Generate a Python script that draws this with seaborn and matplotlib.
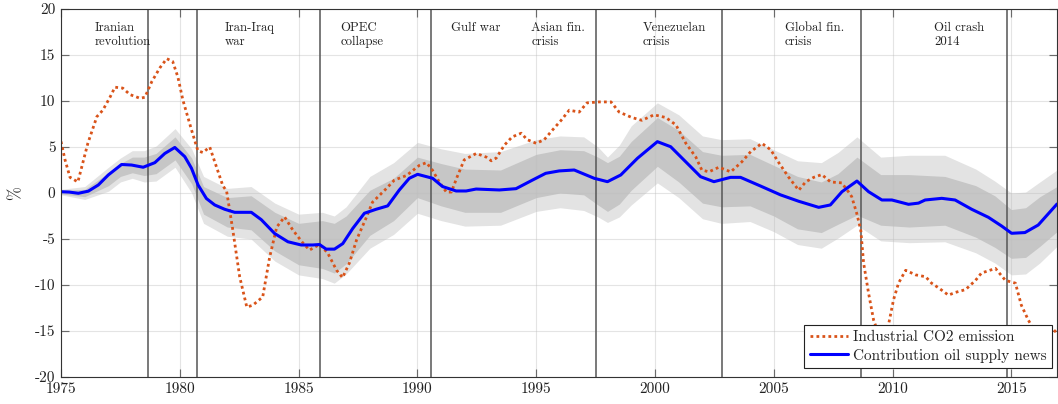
import numpy as np
import pandas as pd
import matplotlib
matplotlib.use("Agg")
import matplotlib.pyplot as plt
import seaborn as sns

# ---------------- data ----------------
blue_years = [1975.0, 1975.35, 1975.73, 1976.15, 1976.57, 1976.99, 1977.55, 1977.97, 1978.46, 1978.95,
              1979.37, 1979.79, 1980.21, 1980.49, 1980.77, 1981.12, 1981.47, 1981.89, 1982.31, 1983.01,
              1983.43, 1983.99, 1984.55, 1985.11, 1985.6, 1985.88, 1986.16, 1986.51, 1986.86, 1987.28,
              1987.77, 1988.26, 1988.75, 1989.24, 1989.66, 1990.01, 1990.64, 1991.06, 1991.63, 1992.05,
              1992.47, 1993.45, 1994.15, 1994.84, 1995.4, 1995.97, 1996.6, 1997.44, 1998.0, 1998.56,
              1999.26, 2000.1, 2000.66, 2001.36, 2001.92, 2002.48, 2003.18, 2003.6, 2004.44, 2005.28,
              2006.05, 2006.89, 2007.38, 2007.87, 2008.5, 2008.99, 2009.55, 2009.97, 2010.67, 2011.09,
              2011.37, 2012.07, 2012.63, 2013.33, 2014.03, 2014.59, 2015.01, 2015.57, 2016.13, 2016.92]
blue_vals = [0.14, 0.1, -0.03, 0.2, 0.87, 1.96, 3.1, 3.04, 2.8, 3.3,
             4.3, 4.95, 3.95, 2.7, 0.87, -0.6, -1.3, -1.77, -2.1, -2.1,
             -2.9, -4.4, -5.3, -5.65, -5.65, -5.6, -6.1, -6.1, -5.5, -3.85,
             -2.2, -1.77, -1.4, 0.33, 1.6, 2.03, 1.6, 0.7, 0.22, 0.22,
             0.43, 0.33, 0.47, 1.4, 2.14, 2.4, 2.5, 1.6, 1.23, 1.96,
             3.77, 5.58, 5.03, 3.22, 1.77, 1.23, 1.7, 1.7, 0.76, -0.2,
             -0.9, -1.56, -1.3, 0.14, 1.3, 0.14, -0.76, -0.76, -1.23, -1.1,
             -0.76, -0.58, -0.76, -1.77, -2.64, -3.59, -4.38, -4.3, -3.48, -1.2]

band_years = [1975.0, 1976.0, 1977.0, 1977.5, 1978.0, 1978.5, 1979.0, 1979.8, 1980.5, 1981.0,
              1982.0, 1983.0, 1984.0, 1985.0, 1986.0, 1986.5, 1987.0, 1988.0, 1989.0, 1990.0,
              1991.0, 1992.0, 1993.5, 1995.0, 1996.0, 1997.0, 1997.6, 1998.0, 1998.5, 1999.0,
              2000.1, 2001.0, 2002.0, 2002.8, 2004.0, 2005.0, 2006.0, 2007.0, 2007.7, 2008.5,
              2009.5, 2010.7, 2012.2, 2013.5, 2014.3, 2015.0, 2015.6, 2016.2, 2016.92]
dark_lo = [-0.1, -0.4, 0.8, 1.8, 2.2, 1.9, 2.1, 3.6, 1.0, -2.3,
           -3.7, -4.0, -6.3, -7.8, -8.2, -8.7, -7.7, -4.6, -3.0, -0.5,
           -1.4, -2.1, -2.1, -0.5, 0.0, -0.2, -1.3, -2.0, -1.2, 0.3,
           2.9, 1.2, -1.1, -1.5, -1.4, -2.5, -3.9, -4.3, -3.4, -2.4,
           -3.5, -3.7, -3.5, -4.8, -5.9, -7.1, -7.0, -5.8, -4.2]
dark_hi = [0.3, 0.4, 2.2, 3.2, 3.9, 3.9, 4.3, 6.1, 3.8, 0.7,
           -0.5, -0.3, -2.1, -3.3, -3.0, -3.3, -2.5, 0.3, 1.6, 3.9,
           3.2, 2.6, 2.5, 4.2, 4.7, 4.6, 3.9, 3.3, 4.0, 5.6,
           8.2, 6.8, 4.5, 4.1, 4.2, 3.0, 1.8, 1.2, 2.1, 3.9,
           2.0, 2.0, 1.8, 0.8, -0.3, -1.8, -1.6, -0.4, 0.7]
light_lo = [-0.2, -0.7, 0.2, 1.2, 1.6, 1.2, 1.3, 2.8, 0.0, -3.3,
            -4.7, -5.0, -7.4, -8.9, -9.3, -9.8, -8.8, -6.0, -4.5, -2.2,
            -3.0, -3.6, -3.5, -2.0, -1.6, -1.9, -2.6, -3.2, -2.6, -1.3,
            1.1, -0.5, -2.8, -3.3, -3.1, -4.2, -5.6, -6.0, -4.9, -3.5,
            -5.2, -5.4, -5.3, -6.5, -7.6, -8.9, -8.8, -7.6, -5.8]
light_hi = [0.4, 0.7, 2.8, 3.8, 4.6, 4.6, 5.1, 7.0, 4.8, 1.8,
            0.5, 0.7, -1.1, -2.3, -2.1, -2.5, -1.5, 1.8, 3.3, 5.5,
            4.8, 4.3, 4.5, 5.8, 6.2, 6.1, 5.0, 3.9, 5.2, 7.3,
            9.8, 8.5, 6.2, 5.8, 5.9, 4.7, 3.5, 3.3, 4.4, 6.1,
            3.9, 4.1, 4.1, 2.6, 1.3, 0.0, 0.1, 1.2, 2.5]

co2_years = [1975.0, 1975.17, 1975.38, 1975.71, 1975.92, 1976.13, 1976.51, 1976.76, 1977.06, 1977.27,
             1977.6, 1977.9, 1978.32, 1978.53, 1978.82, 1979.16, 1979.45, 1979.7, 1979.92, 1980.13,
             1980.5, 1980.76, 1980.97, 1981.26, 1981.55, 1981.81, 1981.97, 1982.23, 1982.52, 1982.82,
             1983.07, 1983.49, 1983.78, 1984.08, 1984.41, 1984.75, 1985.17, 1985.46, 1985.88, 1986.22,
             1986.6, 1986.85, 1987.14, 1987.44, 1987.86, 1988.11, 1988.7, 1989.03, 1989.54, 1990.08,
             1990.38, 1990.63, 1990.92, 1991.22, 1991.43, 1991.68, 1991.97, 1992.48, 1992.9, 1993.11,
             1993.32, 1993.66, 1993.99, 1994.37, 1994.62, 1995.0, 1995.34, 1995.67, 1996.05, 1996.39,
             1996.81, 1997.14, 1997.65, 1998.15, 1998.49, 1999.03, 1999.45, 1999.96, 2000.46, 2000.88,
             2001.3, 2001.72, 2001.97, 2002.27, 2002.69, 2003.19, 2003.66, 2004.03, 2004.5, 2004.87,
             2005.21, 2005.63, 2006.05, 2006.34, 2006.68, 2007.02, 2007.39, 2007.86, 2008.15, 2008.28,
             2008.49, 2008.66, 2008.78, 2008.99, 2009.2, 2009.41, 2009.66, 2009.83, 2010.04, 2010.25,
             2010.55, 2010.97, 2011.39, 2011.64, 2011.93, 2012.35, 2012.65, 2013.07, 2013.49, 2013.74,
             2014.33, 2014.75, 2015.17, 2015.42, 2015.71, 2016.05, 2016.55, 2016.92]
co2_vals = [5.6, 3.6, 1.7, 1.2, 3.3, 5.4, 8.3, 9.0, 10.4, 11.5,
            11.4, 10.7, 10.3, 10.4, 12.1, 13.6, 14.6, 14.3, 12.6, 10.1,
            6.8, 4.6, 4.4, 5.0, 2.8, 0.8, 0.2, -4.0, -9.1, -12.4,
            -12.2, -11.3, -7.0, -3.7, -2.6, -4.0, -5.4, -6.2, -5.6, -6.5,
            -8.4, -9.2, -7.6, -5.1, -2.6, -1.0, 0.5, 1.4, 1.9, 3.0,
            3.3, 2.5, 1.2, 0.1, 0.1, 1.8, 3.6, 4.3, 3.9, 3.5,
            3.8, 5.2, 6.1, 6.5, 5.8, 5.4, 5.8, 6.8, 7.9, 9.0,
            8.8, 9.8, 9.9, 9.9, 8.8, 8.2, 7.9, 8.5, 8.2, 7.4,
            5.4, 3.9, 2.5, 2.3, 2.8, 2.3, 3.4, 4.5, 5.4, 4.7,
            3.3, 1.7, 0.3, 1.2, 1.7, 2.0, 1.2, 1.1, 0.1, -0.4,
            -2.2, -4.0, -7.6, -10.9, -13.8, -15.3, -15.4, -14.3, -11.6, -9.8,
            -8.4, -8.9, -9.1, -9.8, -10.3, -11.1, -10.8, -10.5, -9.5, -8.7,
            -8.2, -9.5, -9.8, -12.2, -13.8, -15.3, -15.7, -14.8]

event_years = [1978.66, 1980.71, 1985.92, 1990.59, 1997.52, 2002.82, 2008.66, 2014.83]
event_labels = ["Iranian\nrevolution", "Iran-Iraq\nwar", "OPEC\ncollapse", "Gulf war",
                "Asian fin.\ncrisis", "Venezuelan\ncrisis", "Global fin.\ncrisis", "Oil crash\n2014"]
event_label_x = [1976.43, 1981.89, 1986.76, 1991.43, 1994.79, 1999.5, 2005.46, 2011.76]

xticks = [1975, 1980, 1985, 1990, 1995, 2000, 2005, 2010, 2015]
xtick_labels = ["1975", "1980", "1985", "1990", "1995", "2000", "2005", "2010", "2015"]
yticks = [-20, -15, -10, -5, 0, 5, 10, 15, 20]
ytick_labels = ["-20", "-15", "-10", "-5", "0", "5", "10", "15", "20"]

series_names = ["Industrial CO2 emission", "Contribution oil supply news"]

# ---------------- style ----------------
sns.set_theme(style="ticks")
plt.rcParams["font.family"] = ["cmr10", "DejaVu Serif"]
plt.rcParams["axes.unicode_minus"] = False
plt.rcParams["mathtext.fontset"] = "cm"

fig = plt.figure(figsize=(10.58, 4.04), dpi=100)
ax = fig.add_axes([61 / 1058, 27 / 404, 996 / 1058, 368 / 404])

# bands
ax.fill_between(band_years, light_lo, light_hi, color="#e3e3e3", lw=0, zorder=1)
ax.fill_between(band_years, dark_lo, dark_hi, color="#c6c6c6", lw=0, zorder=1.1)

# grid on top of bands
for xt in xticks:
    ax.axvline(xt, color="#bdbdbd", lw=0.8, alpha=0.4, zorder=1.5)
for yt in yticks:
    ax.axhline(yt, color="#bdbdbd", lw=0.8, alpha=0.4, zorder=1.5)

# event lines
for ev in event_years:
    ax.axvline(ev, color="#555555", lw=1.1, zorder=2)

co2_df = pd.DataFrame({"year": co2_years, "value": co2_vals})
blue_df = pd.DataFrame({"year": blue_years, "value": blue_vals})

sns.lineplot(data=co2_df, x="year", y="value", ax=ax, color="#D95319", lw=2.0,
             linestyle=(0, (1, 1.15)), label=series_names[0], zorder=3, estimator=None, sort=False)
sns.lineplot(data=blue_df, x="year", y="value", ax=ax, color="#0000FF", lw=2.2,
             label=series_names[1], zorder=4, estimator=None, sort=False)

for lx, lab in zip(event_label_x, event_labels):
    ax.text(lx, 18.55, lab, fontsize=9.2, va="top", ha="left", color="#222222",
            linespacing=1.2, zorder=5)

ax.set_xlim(1975, 2016.92)
ax.set_ylim(-20, 20)
ax.set_xticks(xticks)
ax.set_xticklabels(xtick_labels, fontsize=11)
ax.set_yticks(yticks)
ax.set_yticklabels(ytick_labels, fontsize=11)
ax.set_xlabel("")
ax.set_ylabel("%", fontsize=12, labelpad=8)
ax.tick_params(direction="in", length=6, width=0.8, color="#333333",
               top=True, right=True, labelcolor="#222222", pad=4)
for sp in ax.spines.values():
    sp.set_color("#333333")
    sp.set_linewidth(0.8)
    sp.set_zorder(6)

leg = ax.legend(loc="lower right", bbox_to_anchor=(0.9945, 0.024), fontsize=11,
                frameon=True, fancybox=False, framealpha=1, edgecolor="#222222",
                handlelength=2.5, handletextpad=0.3, borderpad=0.35, labelspacing=0.3,
                borderaxespad=0)
leg.get_frame().set_linewidth(0.8)
leg.set_zorder(10)

fig.savefig("out.png", dpi=100)
